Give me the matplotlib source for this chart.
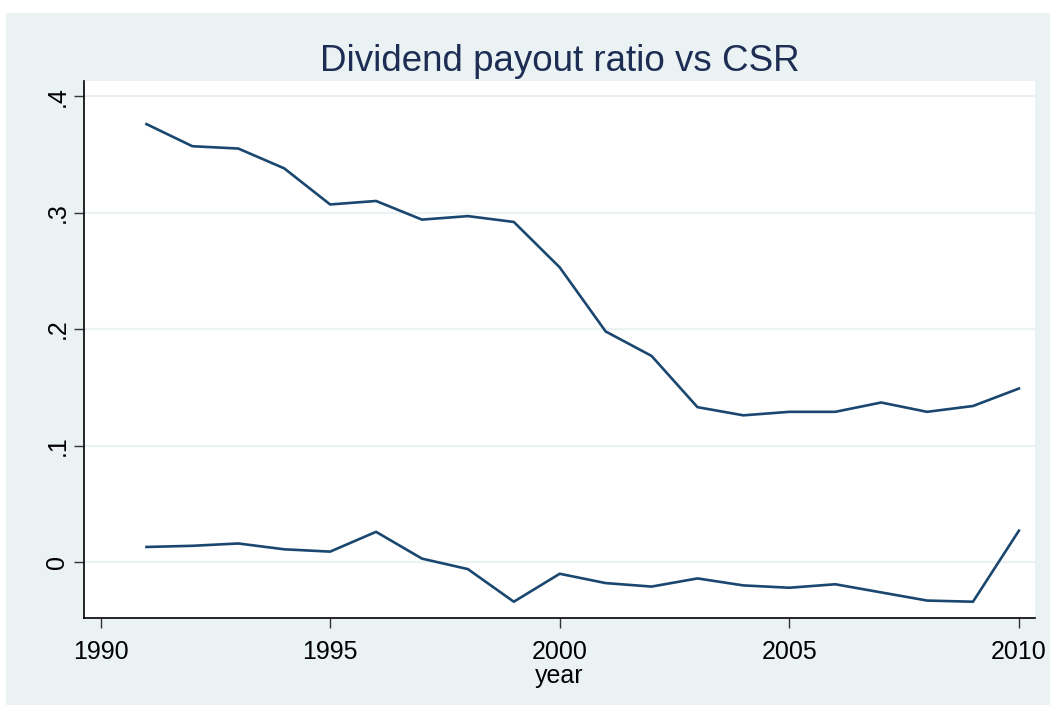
import matplotlib
matplotlib.use("Agg")
import matplotlib.pyplot as plt
from matplotlib.patches import Rectangle

plt.rcParams['font.family'] = ['Liberation Sans', 'DejaVu Sans']

years = list(range(1991, 2011))
payout = [0.376, 0.357, 0.355, 0.338, 0.307, 0.310, 0.294, 0.297, 0.292, 0.253,
          0.198, 0.177, 0.133, 0.126, 0.129, 0.129, 0.137, 0.129, 0.134, 0.149]
csr = [0.013, 0.014, 0.016, 0.011, 0.009, 0.026, 0.003, -0.006, -0.034, -0.010,
       -0.018, -0.021, -0.014, -0.020, -0.022, -0.019, -0.026, -0.033, -0.034, 0.027]

xticks = [1990, 1995, 2000, 2005, 2010]
yticks = [0, 0.1, 0.2, 0.3, 0.4]
ytick_labels = ["0", ".1", ".2", ".3", ".4"]

navy = "#1a476f"
bg = "#eaf2f3"

fig = plt.figure(figsize=(10.5, 7.06), dpi=100, facecolor="white")
# stata-style graph region
fig.patches.append(Rectangle((0.0057, 0.0014), 1.0, 0.980, transform=fig.transFigure,
                             facecolor=bg, edgecolor="none", zorder=-1))

ax = fig.add_axes([0.08, 0.1246, 0.9057, 0.7607])
ax.set_facecolor("white")

ax.plot(years, payout, color=navy, lw=1.9)
ax.plot(years, csr, color=navy, lw=1.9)

ax.set_xlim(1989.64, 2010.35)
ax.set_ylim(-0.048, 0.413)
ax.set_xticks(xticks)
ax.set_yticks(yticks)
ax.set_yticklabels(ytick_labels, rotation=90, va="center")
ax.tick_params(axis="both", labelsize=18, length=7.5, width=1, direction="out", color="#333333")
ax.tick_params(axis="x", pad=8)
ax.tick_params(axis="y", pad=3)

ax.grid(axis="y", color=bg, lw=1.6)
ax.set_axisbelow(True)

for side in ["top", "right"]:
    ax.spines[side].set_visible(False)
for side in ["left", "bottom"]:
    ax.spines[side].set_linewidth(1.2)

ax.set_xlabel("year", fontsize=18, labelpad=0)
fig.text(0.533, 0.913, "Dividend payout ratio vs CSR", fontsize=26.5,
         color="#1e2d53", ha="center", va="center")

fig.savefig("out.png", dpi=100, facecolor=fig.get_facecolor())
